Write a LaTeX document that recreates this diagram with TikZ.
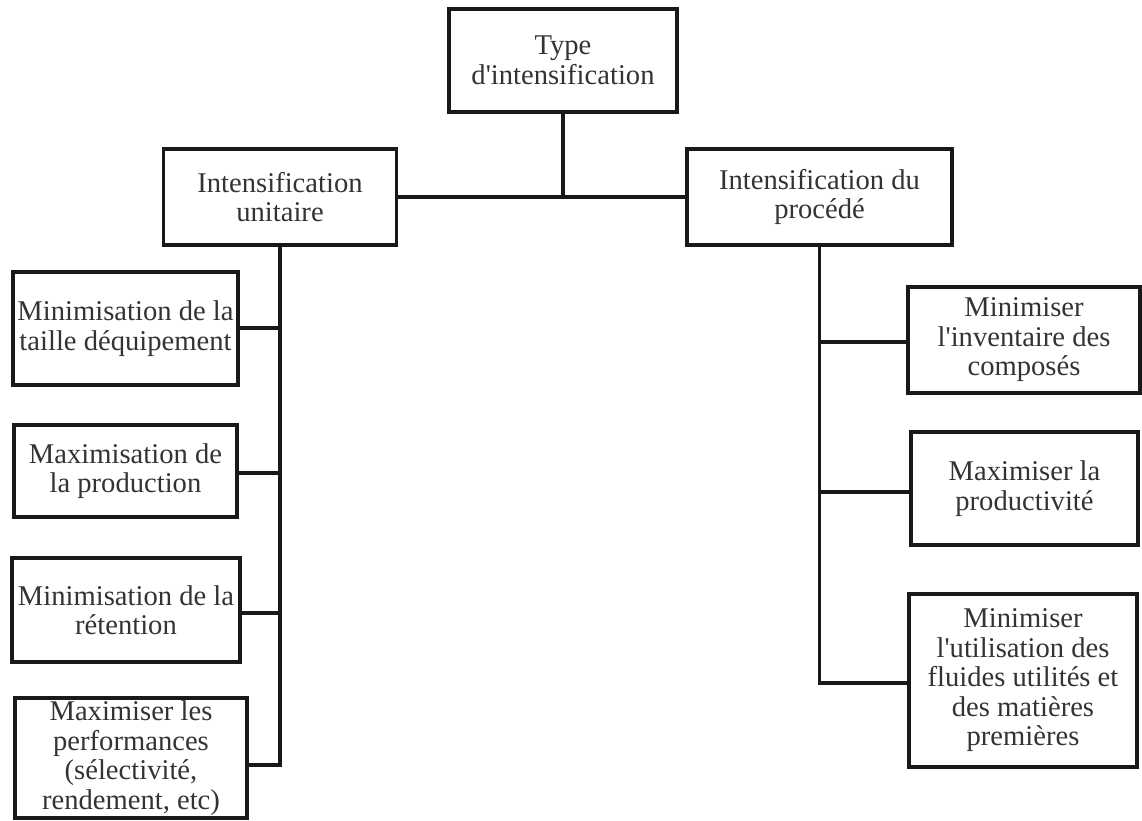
\documentclass[tikz,border=0pt]{standalone}
\usepackage{fontspec}
\setmainfont{Liberation Serif}[Ligatures=TeXOff]
\begin{document}
\begin{tikzpicture}[x=1pt,y=-1pt,
  box/.style={draw=black!90, line width=3.3pt, rectangle, inner sep=0pt, align=center,
    text=black!80, font=\fontsize{28.6}{29.5}\selectfont},
  conn/.style={draw=black!90, line width=3.3pt}]
\useasboundingbox (0,0) rectangle (1142,820);
% top
\node[box, minimum width=228pt, minimum height=103pt] (T) at (563,60.5) {Type\\d'intensification};
\node[box, minimum width=233pt, minimum height=96pt] (L) at (280,197) {Intensification\\unitaire};
\node[box, minimum width=265pt, minimum height=96pt] (R) at (819.5,197) {Intensification du\\procédé};
% left children
\node[box, minimum width=225pt, minimum height=113pt] (L1) at (125.5,328.5) {Minimisation de la\\taille déquipement};
\node[box, minimum width=223pt, minimum height=92pt] (L2) at (125.5,471) {Maximisation de\\la production};
\node[box, minimum width=228pt, minimum height=104pt] (L3) at (126,610) {Minimisation de la\\rétention};
\node[box, minimum width=232pt, minimum height=120pt] (L4) at (131,758) {Maximiser les\\performances\\(sélectivité,\\rendement, etc)};
% right children
\node[box, minimum width=232pt, minimum height=106pt] (R1) at (1024,340) {Minimiser\\l'inventaire des\\composés};
\node[box, minimum width=227pt, minimum height=113pt] (R2) at (1024.5,488.5) {Maximiser la\\productivité};
\node[box, minimum width=228pt, minimum height=173pt] (R3) at (1023,680.5) {Minimiser\\l'utilisation des\\fluides utilités et\\des matières\\premières};
% connectors top
\draw[conn] (T.south) -- (T.south |- L.east);
\draw[conn] (L.east) -- (R.west);
% left tree
\coordinate (lb1) at (280,328);
\coordinate (lb2) at (280,473);
\coordinate (lb3) at (280,613);
\coordinate (lb4) at (280,765);
\draw[conn] (L.south) -- (lb4) -- (L4.east |- lb4);
\draw[conn] (lb1) -- (L1.east |- lb1);
\draw[conn] (lb2) -- (L2.east |- lb2);
\draw[conn] (lb3) -- (L3.east |- lb3);
% right tree
\coordinate (rb1) at (819.5,342);
\coordinate (rb2) at (819.5,492);
\coordinate (rb3) at (819.5,683);
\draw[conn] (R.south) -- (rb3) -- (R3.west |- rb3);
\draw[conn] (rb1) -- (R1.west |- rb1);
\draw[conn] (rb2) -- (R2.west |- rb2);
\end{tikzpicture}
\end{document}
